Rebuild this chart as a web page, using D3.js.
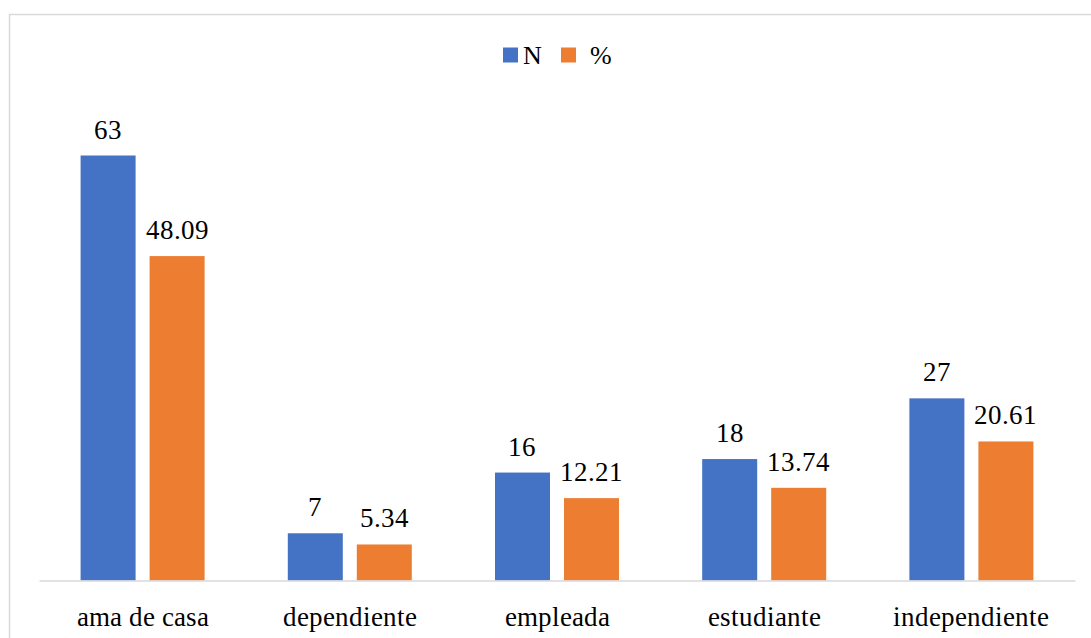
<!DOCTYPE html>
<html>
<head>
<meta charset="utf-8">
<script src="https://cdn.jsdelivr.net/npm/d3@7"></script>
<style>
  @font-face {
    font-family: "ChartSerif";
    src: local("Liberation Serif"), local("LiberationSerif"), local("LiberationSerif-Regular"),
         local("Times New Roman"), local("TimesNewRomanPSMT"), local("Tinos"), local("Tinos-Regular"),
         local("DejaVu Serif"), local("DejaVuSerif"), local("Noto Serif"), local("NotoSerif-Regular");
  }
  html, body { margin: 0; padding: 0; background: #fff; }
  svg text { font-family: "ChartSerif", "Liberation Serif", "DejaVu Serif", "Noto Serif", serif !important; }
</style>
</head>
<body>
<svg id="chart" width="1091" height="638"></svg>
<script>
// Occupation categories and their counts / percentages
const categories = ["ama de casa", "dependiente", "empleada", "estudiante", "independiente"];
const seriesNames = ["N", "%"];
const valuesN = [63, 7, 16, 18, 27];
const valuesPct = [48.09, 5.34, 12.21, 13.74, 20.61];
const labelsN = ["63", "7", "16", "18", "27"];
const labelsPct = ["48.09", "5.34", "12.21", "13.74", "20.61"];
const colors = ["#4472C4", "#ED7D31"];

const svg = d3.select("#chart");
const W = 1091, H = 638;

// Chart frame
svg.append("rect")
  .attr("x", 9.5).attr("y", 14.5)
  .attr("width", W + 10).attr("height", H + 10)
  .attr("fill", "none").attr("stroke", "#d9d9d9").attr("stroke-width", 1.5);

const plot = { left: 39, right: 1075, bottom: 580.5 };

const x0 = d3.scaleBand().domain(categories).range([plot.left, plot.right]).padding(0);
const bw = x0.bandwidth();
const groupW = bw * 0.5985;
const x1 = d3.scaleBand().domain(seriesNames)
  .range([(bw - groupW) / 2, (bw + groupW) / 2])
  .paddingInner(0.203).paddingOuter(0);

const y = d3.scaleLinear().domain([0, 70]).range([plot.bottom, plot.bottom - 70 * (425 / 63)]);

const rows = categories.map((c, i) => ({
  cat: c,
  items: [
    { key: "N", value: valuesN[i], label: labelsN[i] },
    { key: "%", value: valuesPct[i], label: labelsPct[i] }
  ]
}));

const groups = svg.append("g").selectAll("g").data(rows).join("g")
  .attr("transform", d => `translate(${x0(d.cat)},0)`);

groups.selectAll("rect").data(d => d.items).join("rect")
  .attr("x", d => x1(d.key))
  .attr("y", d => y(d.value))
  .attr("width", x1.bandwidth())
  .attr("height", d => y(0) - y(d.value))
  .attr("fill", d => colors[seriesNames.indexOf(d.key)]);

groups.selectAll("text").data(d => d.items).join("text")
  .attr("x", d => x1(d.key) + x1.bandwidth() / 2)
  .attr("y", d => y(d.value) - 17)
  .attr("text-anchor", "middle")
  .attr("font-size", 27)
  .attr("fill", "#000")
  .text(d => d.label);

// Category axis
const xAxis = svg.append("g").attr("transform", `translate(0,${plot.bottom})`)
  .call(d3.axisBottom(x0).tickSize(0).tickPadding(0));
xAxis.select(".domain").attr("stroke", "#d9d9d9").attr("stroke-width", 1.5);
xAxis.selectAll(".tick text")
  .attr("y", 45).attr("dy", 0)
  .attr("font-size", 27)
  .attr("fill", "#000");

// Legend
const legend = svg.append("g");
const legendItems = [
  { name: "N", sx: 503, tx: 523 },
  { name: "%", sx: 561, tx: 590 }
];
legendItems.forEach((it, i) => {
  legend.append("rect").attr("x", it.sx).attr("y", 47.5).attr("width", 15).attr("height", 15)
    .attr("fill", colors[i]);
  legend.append("text").attr("x", it.tx).attr("y", 63.5)
    .attr("font-size", 26).attr("fill", "#000").text(it.name);
});
</script>
</body>
</html>
